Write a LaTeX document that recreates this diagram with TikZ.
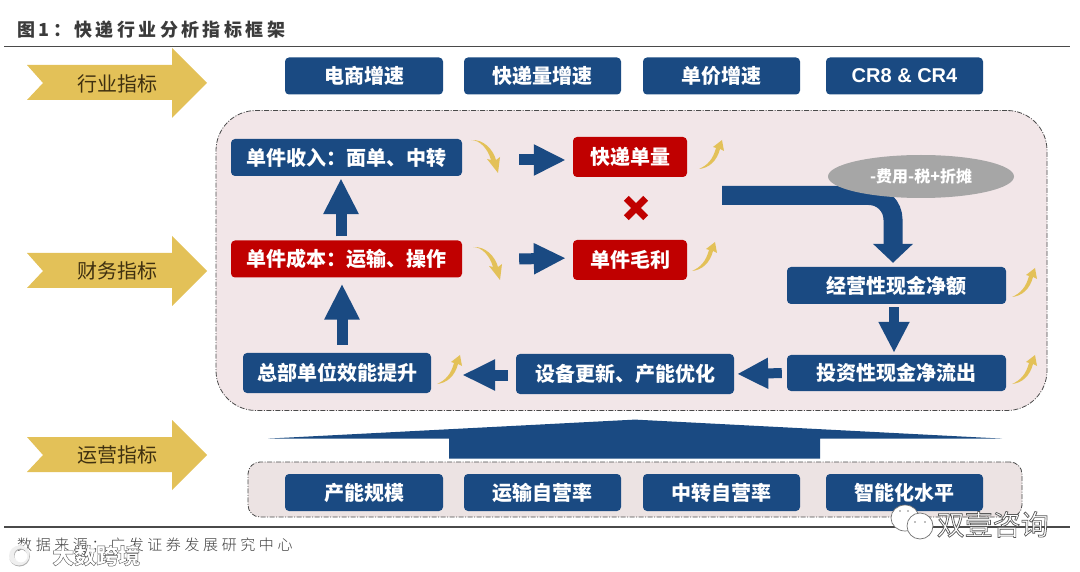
\documentclass[tikz,border=0pt]{standalone}
\usepackage{fontspec}
\setmainfont{Noto Sans CJK SC}
\newfontfamily\spacedfont[LetterSpace=19]{Noto Sans CJK SC}
\newfontfamily\srcfont[LetterSpace=24]{Noto Sans CJK SC Light}
\newfontfamily\latinbold{Liberation Sans}
\usetikzlibrary{arrows.meta,shapes.geometric}
\definecolor{navy}{HTML}{1A4A82}
\definecolor{crimson}{HTML}{C00000}
\definecolor{goldy}{HTML}{E3C158}
\definecolor{panelpink}{HTML}{F2E6E8}
\definecolor{lowerpink}{HTML}{ECE3E3}
\definecolor{inkbrown}{HTML}{3F3010}
\definecolor{rulegray}{HTML}{4A4A4A}
\newcommand{\outlined}[2]{\special{pdf:code q 2 Tr #1 w 0.35 G 1 g}#2\special{pdf:code Q}}
\tikzset{
  x=1pt,y=-1pt,
  box/.style={rectangle,rounded corners=4pt,fill=#1,text=white,font=\fontsize{20}{24}\selectfont\bfseries,inner sep=0pt,anchor=center},
  box/.default=navy,
  bannertext/.style={text=inkbrown,font=\fontsize{20}{24}\selectfont,inner sep=0pt},
  banner/.style={fill=goldy},
  dashpanel/.style={rounded corners=#1,draw=rulegray,line width=0.8pt,dash pattern=on 5pt off 1.5pt on 1pt off 1.5pt},
  blockh/.style={navy,line width=11pt,-{Triangle[length=32pt,width=29pt]}},
  blockv/.style={navy,line width=11pt,-{Triangle[length=36pt,width=33pt]}},
  blockd/.style={navy,line width=10pt,-{Triangle[length=31pt,width=29pt]}},
  blockl/.style={navy,line width=10pt,-{Triangle[length=31pt,width=29pt]}},
  rulel/.style={rulegray,line width=1.1pt},
}
\newcommand{\bannerat}[1]{%
  \fill[banner] (27,#1-18) -- (172,#1-18) -- (172,#1-35) -- (207,#1) -- (172,#1+35) -- (172,#1+17) -- (27,#1+17) -- (43,#1) -- cycle;}
\newcommand{\swup}[2]{%
  \fill[goldy,shift={(#1,#2)}] (0,0) .. controls (9,-4) and (14,-10) .. (17,-21) -- (14,-22) -- (23,-29) -- (25,-18) -- (21,-20) .. controls (18,-8) and (10,-1) .. (0,0) -- cycle;}
\newcommand{\swdown}[2]{%
  \fill[goldy,shift={(#1,#2)}] (0,0) .. controls (9,0) and (17,9) .. (20,20) -- (16,19) -- (27,33) -- (29,17) -- (25,20) .. controls (22,9) and (12,-1) .. (0,0) -- cycle;}
\begin{document}
\begin{tikzpicture}
\useasboundingbox (0,0) rectangle (1080,572);
\fill[white] (0,0) rectangle (1080,572);

% title and rules
\node[anchor=west,inner sep=0pt,font=\spacedfont\fontsize{18}{22}\selectfont\bfseries,text=rulegray!80!black] (title) at (17,30) {图1^^^^ff1a快递行业分析指标框架};
\coordinate (r1a) at (4,46.5); \coordinate (r1b) at (1070,46.5);
\coordinate (r2a) at (4,527); \coordinate (r2b) at (1070,527);
\draw[rulel] (r1a) -- (r1b);
\draw[rulel] (r2a) -- (r2b);

% side banners
\bannerat{83}
\bannerat{271}
\bannerat{455}
\node[bannertext] (b1) at (117,84) {行业指标};
\node[bannertext] (b2) at (117,271) {财务指标};
\node[bannertext] (b3) at (117,455) {运营指标};

% panels
\node[dashpanel=40pt,fill=panelpink,minimum width=831pt,minimum height=300pt,inner sep=0pt] (panel) at (631.5,260.5) {};
\node[dashpanel=12pt,fill=lowerpink,minimum width=774pt,minimum height=55pt,inner sep=0pt] (lower) at (635,489.5) {};

% top row
\node[box,minimum width=158pt,minimum height=37pt] (t1) at (364,76) {电商增速};
\node[box,minimum width=157pt,minimum height=37pt] (t2) at (542.5,76) {快递量增速};
\node[box,minimum width=157pt,minimum height=37pt] (t3) at (721.5,76) {单价增速};
\node[box,minimum width=157pt,minimum height=37pt] (t4) at (904.5,76) {\latinbold CR8 \& CR4};

% middle boxes
\node[box,minimum width=231pt,minimum height=37pt] (shouru) at (346.5,157.5) {单件收入^^^^ff1a面单、中转};
\node[box=crimson,minimum width=231pt,minimum height=37pt] (chengben) at (346.5,259) {单件成本^^^^ff1a运输、操作};
\node[box=crimson,minimum width=114pt,minimum height=40pt] (danliang) at (630,157) {快递单量};
\node[box=crimson,minimum width=114pt,minimum height=40pt] (maoli) at (630,260) {单件毛利};
\node[box,minimum width=219pt,minimum height=37pt] (jingying) at (896.5,285.5) {经营性现金净额};
\node[box,minimum width=219pt,minimum height=36pt] (touzi) at (896.5,373) {投资性现金净流出};
\node[box,minimum width=218pt,minimum height=40pt] (shebei) at (625,374) {设备更新、产能优化};
\node[box,minimum width=188pt,minimum height=40pt] (zongbu) at (337,373) {总部单位效能提升};

% bottom row
\node[box,minimum width=158pt,minimum height=37pt] (o1) at (364,492.5) {产能规模};
\node[box,minimum width=157pt,minimum height=37pt] (o2) at (542.5,492.5) {运输自营率};
\node[box,minimum width=157pt,minimum height=37pt] (o3) at (721.5,492.5) {中转自营率};
\node[box,minimum width=157pt,minimum height=37pt] (o4) at (904.5,492.5) {智能化水平};

% block connectors
\draw[blockh,shorten <=57pt,shorten >=7pt] ([yshift=-2.5pt]shouru.east) -- ([yshift=-3pt]danliang.west);
\draw[blockh,shorten <=57pt,shorten >=7pt] ([yshift=-1pt]chengben.east) -- ([yshift=2pt]maoli.west);
\draw[blockv,shorten <=4pt,shorten >=2pt] ([xshift=-5.5pt]chengben.north) -- ([xshift=-5.5pt]shouru.south);
\draw[blockv,shorten <=8pt,shorten >=6pt] ([xshift=5pt]zongbu.north) -- ([xshift=-4.5pt]chengben.south);
\draw[blockd,shorten <=3pt,shorten >=2pt] ([xshift=-2.5pt]jingying.south) -- ([xshift=-2.5pt]touzi.north);
\draw[blockl,shorten <=5pt,shorten >=3pt] (touzi.west) -- (shebei.east);
\draw[navy,line width=11pt,-{Triangle[length=33pt,width=29pt]},shorten <=8pt] ([yshift=-1pt]shebei.west) -- ([xshift=31pt,yshift=-2pt]zongbu.east);

% elbow connector
\coordinate (elbowstart) at (722,195.5);
\draw[navy,line width=19pt,rounded corners=24pt,-{Triangle[length=19pt,width=39pt]},shorten >=4pt] (elbowstart) -| ([xshift=-3.5pt]jingying.north);
\node[ellipse,fill=black!35,minimum width=186pt,minimum height=43pt,inner sep=0pt,text=white,font=\fontsize{16}{19}\selectfont\bfseries] (fee) at (921,176.5) {-费用-税+折摊};

% big arrow from lower panel to main panel
\fill[navy,shift={(lower.north)}] (-367,-23) -- (0,-42) -- (367,-23) -- (185,-23) -- (185,-3) -- (-186,-3) -- (-186,-23) -- cycle;

% multiplication mark
\node[minimum size=23pt,inner sep=0pt] (times) at (636,208) {};
\draw[crimson,line width=7pt] ([shift={(2pt,-2pt)}]times.north west) -- ([shift={(-2pt,2pt)}]times.south east);
\draw[crimson,line width=7pt] ([shift={(-2pt,-2pt)}]times.north east) -- ([shift={(2pt,2pt)}]times.south west);

% gold swooshes
\swdown{471}{140}
\swdown{473}{247}
\swup{699}{169}
\swup{692}{271}
\swup{1012}{297}
\swup{1012}{384}
\swup{437}{384}

% source
\node[anchor=west,inner sep=0pt,font=\srcfont\fontsize{15}{18}\selectfont,text=black!75] (src) at (17,545) {数据来源^^^^ff1a广发证券发展研究中心};

% watermarks
\fill[black!30,even odd rule] (19.5,556) circle (10.5) (21,556) circle (6.5);
\fill[white,opacity=.8,even odd rule] (19,555) circle (10.5) (20.5,555) circle (6.5);
\node[anchor=west,inner sep=0pt,font=\fontsize{22}{26}\selectfont\bfseries,text=white] (wm1) at (52,555.5) {\outlined{0.4}{大数跨境}};

\node[ellipse,draw=black!55,fill=white,line width=.7pt,minimum width=28pt,minimum height=26pt,inner sep=0pt] (bub1) at (905,518) {};
\node[ellipse,draw=black!55,fill=white,line width=.7pt,minimum width=26pt,minimum height=26pt,inner sep=0pt] (bub2) at (920,526) {};
\fill[black!50] (900,511) circle (.9) (908,511) circle (.9) (915,522) circle (.9) (925,522) circle (.9);
\node[anchor=west,inner sep=0pt,font=\fontsize{28}{32}\selectfont,text=white] (wm2) at (936.5,524.5) {\outlined{0.7}{双壹咨询}};
\end{tikzpicture}
\end{document}
